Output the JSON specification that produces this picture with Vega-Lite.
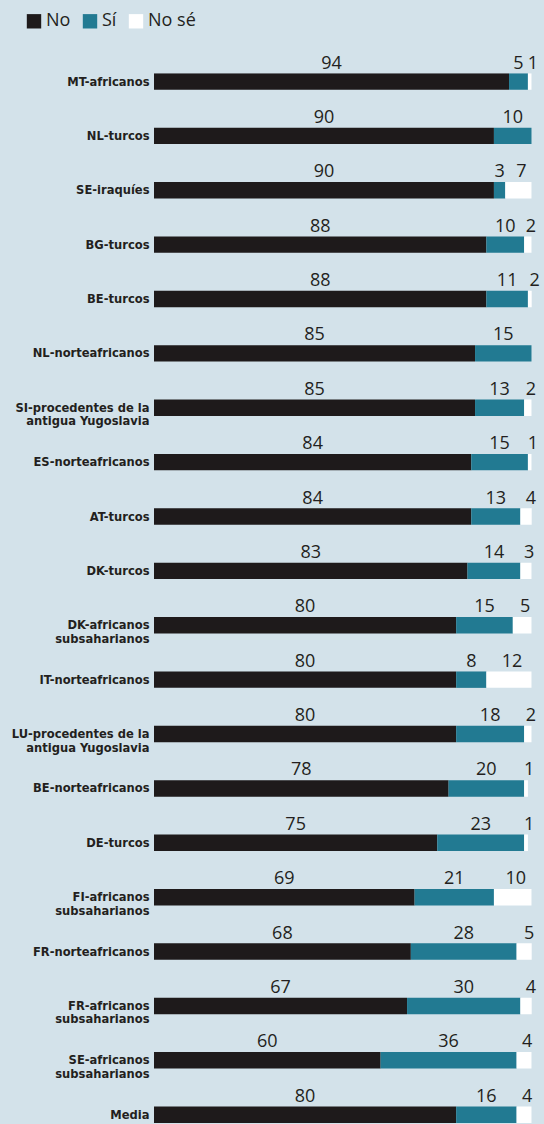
{
  "$schema": "https://vega.github.io/schema/vega-lite/v6.json",
  "width": 377.7,
  "height": 1049.6,
  "autosize": {"type": "none"},
  "padding": {"left": 154, "top": 73.3, "right": 12.3, "bottom": 1.1},
  "background": "#d3e2ea",
  "config": {"view": {"stroke": null}, "font": "Open Sans"},
  "data": {
    "values": [
      {"idx": 1, "grupo": "MT-africanos", "respuesta": "No", "orden": 1, "valor": 94},
      {"idx": 1, "grupo": "MT-africanos", "respuesta": "Sí", "orden": 2, "valor": 5},
      {"idx": 1, "grupo": "MT-africanos", "respuesta": "No sé", "orden": 3, "valor": 1},
      {"idx": 2, "grupo": "NL-turcos", "respuesta": "No", "orden": 1, "valor": 90},
      {"idx": 2, "grupo": "NL-turcos", "respuesta": "Sí", "orden": 2, "valor": 10},
      {"idx": 2, "grupo": "NL-turcos", "respuesta": "No sé", "orden": 3, "valor": 0},
      {"idx": 3, "grupo": "SE-iraquíes", "respuesta": "No", "orden": 1, "valor": 90},
      {"idx": 3, "grupo": "SE-iraquíes", "respuesta": "Sí", "orden": 2, "valor": 3},
      {"idx": 3, "grupo": "SE-iraquíes", "respuesta": "No sé", "orden": 3, "valor": 7},
      {"idx": 4, "grupo": "BG-turcos", "respuesta": "No", "orden": 1, "valor": 88},
      {"idx": 4, "grupo": "BG-turcos", "respuesta": "Sí", "orden": 2, "valor": 10},
      {"idx": 4, "grupo": "BG-turcos", "respuesta": "No sé", "orden": 3, "valor": 2},
      {"idx": 5, "grupo": "BE-turcos", "respuesta": "No", "orden": 1, "valor": 88},
      {"idx": 5, "grupo": "BE-turcos", "respuesta": "Sí", "orden": 2, "valor": 11},
      {"idx": 5, "grupo": "BE-turcos", "respuesta": "No sé", "orden": 3, "valor": 2},
      {"idx": 6, "grupo": "NL-norteafricanos", "respuesta": "No", "orden": 1, "valor": 85},
      {"idx": 6, "grupo": "NL-norteafricanos", "respuesta": "Sí", "orden": 2, "valor": 15},
      {"idx": 6, "grupo": "NL-norteafricanos", "respuesta": "No sé", "orden": 3, "valor": 0},
      {"idx": 7, "grupo": "SI-procedentes de la|antigua Yugoslavia", "respuesta": "No", "orden": 1, "valor": 85},
      {"idx": 7, "grupo": "SI-procedentes de la|antigua Yugoslavia", "respuesta": "Sí", "orden": 2, "valor": 13},
      {"idx": 7, "grupo": "SI-procedentes de la|antigua Yugoslavia", "respuesta": "No sé", "orden": 3, "valor": 2},
      {"idx": 8, "grupo": "ES-norteafricanos", "respuesta": "No", "orden": 1, "valor": 84},
      {"idx": 8, "grupo": "ES-norteafricanos", "respuesta": "Sí", "orden": 2, "valor": 15},
      {"idx": 8, "grupo": "ES-norteafricanos", "respuesta": "No sé", "orden": 3, "valor": 1},
      {"idx": 9, "grupo": "AT-turcos", "respuesta": "No", "orden": 1, "valor": 84},
      {"idx": 9, "grupo": "AT-turcos", "respuesta": "Sí", "orden": 2, "valor": 13},
      {"idx": 9, "grupo": "AT-turcos", "respuesta": "No sé", "orden": 3, "valor": 4},
      {"idx": 10, "grupo": "DK-turcos", "respuesta": "No", "orden": 1, "valor": 83},
      {"idx": 10, "grupo": "DK-turcos", "respuesta": "Sí", "orden": 2, "valor": 14},
      {"idx": 10, "grupo": "DK-turcos", "respuesta": "No sé", "orden": 3, "valor": 3},
      {"idx": 11, "grupo": "DK-africanos|subsaharianos", "respuesta": "No", "orden": 1, "valor": 80},
      {"idx": 11, "grupo": "DK-africanos|subsaharianos", "respuesta": "Sí", "orden": 2, "valor": 15},
      {"idx": 11, "grupo": "DK-africanos|subsaharianos", "respuesta": "No sé", "orden": 3, "valor": 5},
      {"idx": 12, "grupo": "IT-norteafricanos", "respuesta": "No", "orden": 1, "valor": 80},
      {"idx": 12, "grupo": "IT-norteafricanos", "respuesta": "Sí", "orden": 2, "valor": 8},
      {"idx": 12, "grupo": "IT-norteafricanos", "respuesta": "No sé", "orden": 3, "valor": 12},
      {"idx": 13, "grupo": "LU-procedentes de la|antigua Yugoslavia", "respuesta": "No", "orden": 1, "valor": 80},
      {"idx": 13, "grupo": "LU-procedentes de la|antigua Yugoslavia", "respuesta": "Sí", "orden": 2, "valor": 18},
      {"idx": 13, "grupo": "LU-procedentes de la|antigua Yugoslavia", "respuesta": "No sé", "orden": 3, "valor": 2},
      {"idx": 14, "grupo": "BE-norteafricanos", "respuesta": "No", "orden": 1, "valor": 78},
      {"idx": 14, "grupo": "BE-norteafricanos", "respuesta": "Sí", "orden": 2, "valor": 20},
      {"idx": 14, "grupo": "BE-norteafricanos", "respuesta": "No sé", "orden": 3, "valor": 1},
      {"idx": 15, "grupo": "DE-turcos", "respuesta": "No", "orden": 1, "valor": 75},
      {"idx": 15, "grupo": "DE-turcos", "respuesta": "Sí", "orden": 2, "valor": 23},
      {"idx": 15, "grupo": "DE-turcos", "respuesta": "No sé", "orden": 3, "valor": 1},
      {"idx": 16, "grupo": "FI-africanos|subsaharianos", "respuesta": "No", "orden": 1, "valor": 69},
      {"idx": 16, "grupo": "FI-africanos|subsaharianos", "respuesta": "Sí", "orden": 2, "valor": 21},
      {"idx": 16, "grupo": "FI-africanos|subsaharianos", "respuesta": "No sé", "orden": 3, "valor": 10},
      {"idx": 17, "grupo": "FR-norteafricanos", "respuesta": "No", "orden": 1, "valor": 68},
      {"idx": 17, "grupo": "FR-norteafricanos", "respuesta": "Sí", "orden": 2, "valor": 28},
      {"idx": 17, "grupo": "FR-norteafricanos", "respuesta": "No sé", "orden": 3, "valor": 5},
      {"idx": 18, "grupo": "FR-africanos|subsaharianos", "respuesta": "No", "orden": 1, "valor": 67},
      {"idx": 18, "grupo": "FR-africanos|subsaharianos", "respuesta": "Sí", "orden": 2, "valor": 30},
      {"idx": 18, "grupo": "FR-africanos|subsaharianos", "respuesta": "No sé", "orden": 3, "valor": 4},
      {"idx": 19, "grupo": "SE-africanos|subsaharianos", "respuesta": "No", "orden": 1, "valor": 60},
      {"idx": 19, "grupo": "SE-africanos|subsaharianos", "respuesta": "Sí", "orden": 2, "valor": 36},
      {"idx": 19, "grupo": "SE-africanos|subsaharianos", "respuesta": "No sé", "orden": 3, "valor": 4},
      {"idx": 20, "grupo": "Media", "respuesta": "No", "orden": 1, "valor": 80},
      {"idx": 20, "grupo": "Media", "respuesta": "Sí", "orden": 2, "valor": 16},
      {"idx": 20, "grupo": "Media", "respuesta": "No sé", "orden": 3, "valor": 4}
    ]
  },
  "transform": [
    {"stack": "valor", "groupby": ["grupo"], "sort": [{"field": "orden", "order": "ascending"}], "as": ["v0", "v1"]},
    {"calculate": "(datum.v0 + datum.v1) / 2", "as": "vmid"}
  ],
  "encoding": {
    "y": {
      "field": "grupo",
      "type": "nominal",
      "sort": {"field": "idx", "op": "min", "order": "ascending"},
      "scale": {"paddingInner": 0.6984, "paddingOuter": 0},
      "axis": {
        "title": null,
        "domain": false,
        "ticks": false,
        "labelExpr": "split(datum.label, '|')",
        "labelFont": "DejaVu Sans Condensed",
        "labelFontWeight": "bold",
        "labelFontSize": 12.8,
        "labelLineHeight": 13.5,
        "labelColor": "#231f20",
        "labelPadding": 5,
        "labelLimit": 0
      }
    }
  },
  "layer": [
    {
      "mark": {"type": "bar", "clip": true},
      "encoding": {
        "x": {"field": "v0", "type": "quantitative", "scale": {"domain": [0, 100], "nice": false, "zero": true}, "axis": null},
        "x2": {"field": "v1"},
        "color": {
          "field": "respuesta",
          "type": "nominal",
          "scale": {"domain": ["No", "Sí", "No sé"], "range": ["#1e1a1b", "#227a92", "#ffffff"]},
          "legend": {
            "orient": "none",
            "legendX": -129,
            "legendY": -61,
            "direction": "horizontal",
            "title": null,
            "padding": 0,
            "symbolType": "square",
            "symbolSize": 207,
            "symbolStrokeWidth": 0,
            "symbolOffset": 0,
            "labelFont": "Open Sans",
            "labelFontSize": 18,
            "labelColor": "#231f20",
            "labelOffset": 3,
            "columnPadding": 10
          }
        }
      }
    },
    {
      "transform": [{"filter": "datum.valor > 0 && datum.respuesta != 'No sé'"}],
      "mark": {"type": "text", "baseline": "alphabetic", "dy": -13, "fontSize": 18, "font": "Open Sans", "color": "#231f20"},
      "encoding": {
        "x": {"field": "vmid", "type": "quantitative"},
        "text": {"field": "valor", "type": "quantitative"}
      }
    },
    {
      "transform": [{"filter": "datum.valor > 0 && datum.respuesta == 'No sé'"}],
      "mark": {"type": "text", "baseline": "alphabetic", "dy": -13, "dx": 3, "fontSize": 18, "font": "Open Sans", "color": "#231f20"},
      "encoding": {
        "x": {"field": "vmid", "type": "quantitative"},
        "text": {"field": "valor", "type": "quantitative"}
      }
    }
  ]
}
